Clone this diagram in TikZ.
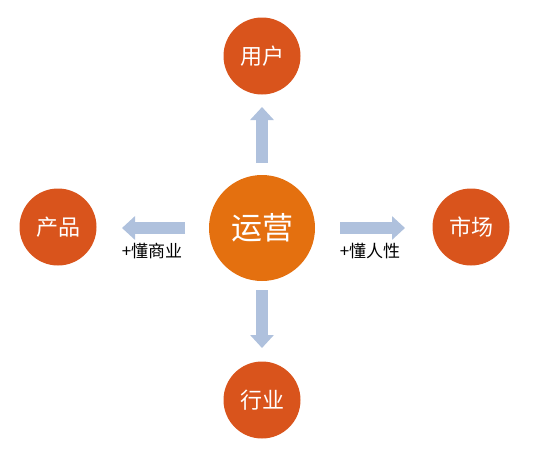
\documentclass[tikz,border=0pt]{standalone}
\usepackage{fontspec}
\setmainfont{Noto Sans CJK SC}
\usetikzlibrary{arrows.meta}
\definecolor{outerc}{HTML}{D9541C}
\definecolor{centerc}{HTML}{E4700F}
\definecolor{arrowc}{HTML}{AFC1DD}
\begin{document}
\begin{tikzpicture}[x=1pt,y=-1pt,
  outer/.style={circle,fill=outerc,minimum size=77pt,inner sep=0pt,text=white,font=\fontsize{22}{22}\selectfont},
  core/.style={circle,fill=centerc,minimum size=106pt,inner sep=0pt,text=white,font=\fontsize{31}{31}\selectfont},
  arr/.style={draw=arrowc,line width=12pt,-{Triangle[width=23pt,length=13pt]}},
  lbl/.style={font=\fontsize{17}{17}\selectfont,text=black}]
\useasboundingbox (0,0) rectangle (537,463);
\node[core] (c) at (262,228) {运营};
\node[outer] (u) at (262,56) {用户};
\node[outer] (p) at (58,227) {产品};
\node[outer] (m) at (471,227) {市场};
\node[outer] (h) at (262,400) {行业};
\draw[arr,shorten <=65pt,shorten >=51pt] (c.center) -- (u.center);
\draw[arr,shorten <=62pt,shorten >=52pt] (c.center) -- (h.center);
\draw[arr,shorten <=77pt,shorten >=64pt] (c.center) -- (c.center -| p.center);
\draw[arr,shorten <=78pt,shorten >=66pt] (c.center) -- (c.center -| m.center);
\node[lbl] (l1) at (152,251) {+懂商业};
\node[lbl] (l2) at (370,251) {+懂人性};
\end{tikzpicture}
\end{document}
